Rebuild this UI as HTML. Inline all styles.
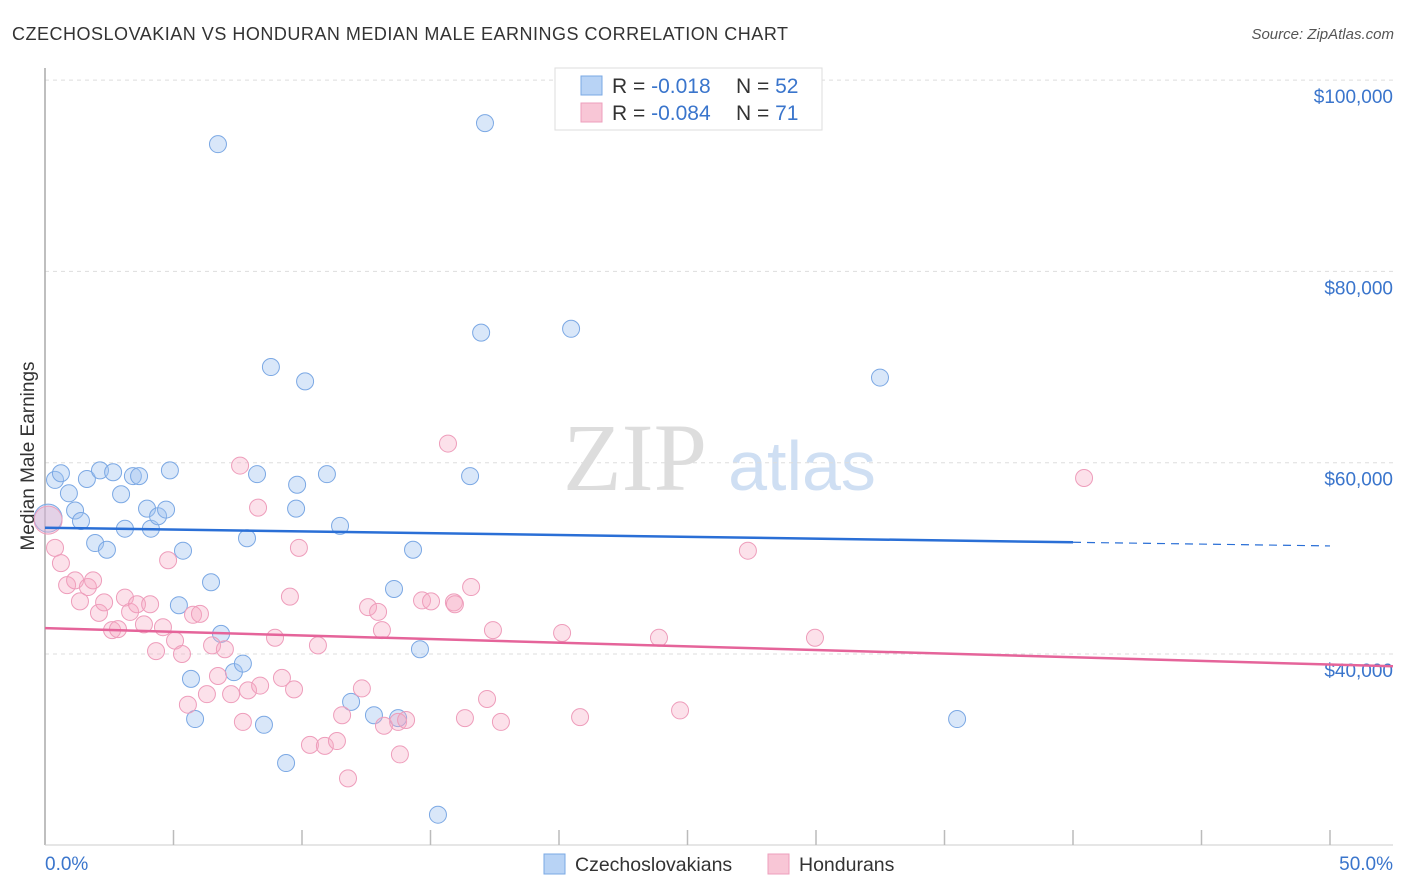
<!DOCTYPE html>
<html><head><meta charset="utf-8">
<style>
body{margin:0;background:#fff;font-family:"Liberation Sans",sans-serif;}
svg{display:block}
</style></head>
<body>
<svg id="chart" width="1406" height="892" xmlns="http://www.w3.org/2000/svg">
<text x="12" y="40" font-size="18" fill="#333" textLength="776">CZECHOSLOVAKIAN VS HONDURAN MEDIAN MALE EARNINGS CORRELATION CHART</text>
<text x="1394" y="39" font-size="15" fill="#555" font-style="italic" text-anchor="end">Source: ZipAtlas.com</text>
<g>
<text x="635" y="490" font-size="96" font-family="Liberation Serif,serif" fill="#ddd" text-anchor="middle">ZIP</text>
<text x="802" y="490" font-size="70" fill="#cfdff3" text-anchor="middle">atlas</text>
</g>
<g id="grid"></g>
<g id="axes"></g>
<g id="marks"></g>
<g id="trend"></g>
<text transform="translate(34,456) rotate(-90)" font-size="19" fill="#333" text-anchor="middle">Median Male Earnings</text>
<g>
<rect x="555" y="68" width="267" height="62" fill="#fff" stroke="#ddd"/>
<rect x="581" y="76" width="21" height="19" fill="#b8d3f5" stroke="#7aa8e4"/>
<rect x="581" y="103" width="21" height="19" fill="#f8c6d6" stroke="#ee9fbc"/>
<text x="612" y="93" font-size="21" fill="#333">R = <tspan fill="#3a75cc"> -0.018</tspan></text>
<text x="736" y="93" font-size="21" fill="#333">N = <tspan fill="#3a75cc">52</tspan></text>
<text x="612" y="120" font-size="21" fill="#333">R = <tspan fill="#3a75cc">-0.084</tspan></text>
<text x="736" y="120" font-size="21" fill="#333">N = <tspan fill="#3a75cc"> 71</tspan></text>
</g>
<g>
<rect x="544" y="854" width="21" height="20" fill="#b8d3f5" stroke="#7aa8e4"/>
<text x="575" y="871" font-size="19.5" fill="#333">Czechoslovakians</text>
<rect x="768" y="854" width="21" height="20" fill="#f8c6d6" stroke="#ee9fbc"/>
<text x="799" y="871" font-size="19.5" fill="#333">Hondurans</text>
</g>
</svg>
<script>
const xTickLabels=["0.0%","50.0%"];
const yTicks=[40000,60000,80000,100000];
const yTickLabels=["$40,000","$60,000","$80,000","$100,000"];
const czechX=[0.12,0.39,0.62,0.93,1.17,1.40,1.63,1.95,2.14,2.41,2.65,2.96,3.11,3.42,3.66,3.97,4.12,4.40,4.71,4.86,5.21,5.37,5.68,5.84,6.46,6.73,6.85,7.35,7.70,7.86,8.25,8.52,8.79,9.38,9.81,9.77,10.12,10.97,11.48,11.91,12.80,13.58,13.74,14.32,14.59,15.29,16.54,16.97,17.12,20.47,32.49,35.49];
const czechY=[54.2,58.2,58.9,56.8,55.0,53.9,58.3,51.6,59.2,50.9,59.0,56.7,53.1,58.6,58.6,55.2,53.1,54.4,55.1,59.2,45.1,50.8,37.4,33.2,47.5,93.3,42.1,38.1,39.0,52.1,58.8,32.6,70.0,28.6,57.7,55.2,68.5,58.8,53.4,35.0,33.6,46.8,33.3,50.9,40.5,23.2,58.6,73.6,95.5,74.0,68.9,33.2];
const hondX=[0.12,0.39,0.62,0.86,1.17,1.36,1.67,1.87,2.10,2.30,2.61,2.84,3.11,3.31,3.58,3.85,4.09,4.32,4.59,4.79,5.06,5.33,5.56,5.76,6.03,6.30,6.50,6.73,7.00,7.24,7.59,7.70,7.90,8.29,8.37,8.95,9.22,9.53,9.69,9.88,10.31,10.62,10.89,11.36,11.56,11.79,12.33,12.57,12.96,13.11,13.19,13.74,13.81,14.05,14.67,15.02,15.68,15.91,15.95,16.34,16.58,17.20,17.43,17.74,20.12,20.82,23.89,24.71,27.35,29.96,40.43];
const hondY=[54.0,51.1,49.5,47.2,47.7,45.5,47.0,47.7,44.3,45.4,42.5,42.6,45.9,44.4,45.2,43.1,45.2,40.3,42.8,49.8,41.4,40.0,34.7,44.1,44.2,35.8,40.9,37.7,40.5,35.8,59.7,32.9,36.2,55.3,36.7,41.7,37.5,46.0,36.3,51.1,30.5,40.9,30.4,30.9,33.6,27.0,36.4,44.9,44.4,42.5,32.5,32.9,29.5,33.1,45.6,45.5,62.0,45.4,45.2,33.3,47.0,35.3,42.5,32.9,42.2,33.4,41.7,34.1,50.8,41.7,58.4];
const czechTrend=[53.2,-0.038];
const hondTrend=[42.7,-0.076];
const NS="http://www.w3.org/2000/svg";
const X=p=>45+p*25.7, Y=k=>654-(k-40)*9.565;
function mk(tag,at,parent){const e=document.createElementNS(NS,tag);for(const k in at)e.setAttribute(k,at[k]);document.getElementById(parent).appendChild(e);return e;}
yTicks.forEach((v,i)=>{const y=Y(v/1000);
 const g=mk('line',{x1:45,x2:1393,y1:y,y2:y,stroke:'#ddd','stroke-dasharray':'4,4'},'grid');
 
 
 const t=mk('text',{x:1393,y:y+23,'font-size':19,fill:'#3a75cc','text-anchor':'end'},'axes');
 t.textContent=yTickLabels[i];
 
 
});
const ax=mk('line',{x1:45,x2:45,y1:68,y2:845,stroke:'#aaa','stroke-width':1.5},'axes');


const bx=mk('line',{x1:45,x2:1393,y1:845,y2:845,stroke:'#ccc'},'axes');


for(let i=1;i<=10;i++){const x=X(i*5);
 const t=mk('line',{x1:x,x2:x,y1:830,y2:845,stroke:'#bbb','stroke-width':1.5},'axes');
 
 }
[[0,'start',45],[50,'end',1393]].forEach((d,i)=>{const t=mk('text',{x:d[2],y:870,'font-size':19,fill:'#3a75cc','text-anchor':d[1]},'axes');
 t.textContent=xTickLabels[i];
 
 });
function pts(xs,ys,fill,stroke,name){xs.forEach((x,i)=>{const c=mk('circle',{cx:X(x),cy:Y(ys[i]),r:i===0?14:8.5,fill:fill,stroke:stroke,'stroke-width':1},'marks');
 
 });}
pts(czechX,czechY,'rgba(160,195,240,0.4)','#7ba8e4','czech-point');
pts(hondX,hondY,'rgba(245,170,195,0.35)','#ee9dbb','honduran-point');
const b1=mk('line',{x1:X(0),y1:Y(czechTrend[0]),x2:X(40),y2:Y(czechTrend[0]+czechTrend[1]*40),stroke:'#2a6fd6','stroke-width':2.5},'trend');


const b2=mk('line',{x1:X(40),y1:Y(czechTrend[0]+czechTrend[1]*40),x2:X(50),y2:Y(czechTrend[0]+czechTrend[1]*50),stroke:'#2a6fd6','stroke-width':1.2,'stroke-dasharray':'8,6'},'trend');


const p1=mk('line',{x1:X(0),y1:Y(hondTrend[0]),x2:X(52.45),y2:Y(hondTrend[0]+hondTrend[1]*52.45),stroke:'#e5649a','stroke-width':2.5},'trend');


</script>
</body></html>
